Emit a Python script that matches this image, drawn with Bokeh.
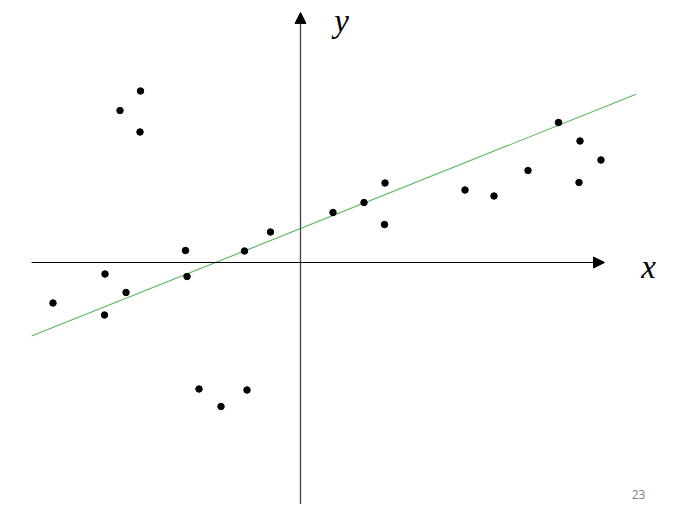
from bokeh.plotting import figure
from bokeh.models import Arrow, NormalHead, Label, Range1d, ColumnDataSource
from bokeh.embed import file_html
from bokeh.resources import INLINE

# Data points
pts_x = [-4.95, -3.91, -3.92, -3.49, -2.30, -2.27, -1.12, -0.60,
         0.65, 1.27, 1.69, 1.68, 3.29, 3.87, 4.55, 5.16, 5.59, 6.01, 5.57,
         -3.20, -3.61, -3.21, -2.03, -1.07, -1.59]
pts_y = [-0.81, -0.23, -1.05, -0.60, 0.24, -0.28, 0.23, 0.61,
         1.00, 1.20, 1.59, 0.76, 1.45, 1.33, 1.84, 2.80, 2.43, 2.05, 1.60,
         3.43, 3.04, 2.61, -2.53, -2.55, -2.88]

# Fitted line
fit_slope = 0.40
fit_intercept = 0.68
fit_x = [-5.38, 6.71]
fit_y = [fit_slope * v + fit_intercept for v in fit_x]

page_number = "23"

p = figure(width=666, height=504, output_backend="svg", toolbar_location=None,
           x_range=Range1d(-6.0, 7.32), y_range=Range1d(-4.84, 5.24),
           min_border=0, outline_line_color=None)
p.axis.visible = False
p.grid.visible = False
p.background_fill_color = "white"
p.border_fill_color = "white"

# Axes arrows
p.add_layout(Arrow(x_start=-5.38, y_start=0, x_end=6.08, y_end=0,
                   line_color="black", line_width=1.2,
                   end=NormalHead(size=11, fill_color="black", line_color="black", line_width=1)))
p.add_layout(Arrow(x_start=0, y_start=-4.84, x_end=0, y_end=5.0,
                   line_color="#404040", line_width=1.3,
                   end=NormalHead(size=11, fill_color="black", line_color="black", line_width=1)))

# Fit line
p.line(fit_x, fit_y, line_color="#5cb85c", line_width=1.1)

# Points
src = ColumnDataSource(dict(x=pts_x, y=pts_y))
p.scatter("x", "y", source=src, size=6.5, fill_color="black", line_color="black")

# Axis labels
p.add_layout(Label(x=6.96, y=-0.08, text="x", text_font="Liberation Serif",
                   text_font_style="italic", text_font_size="33px",
                   text_align="center", text_baseline="alphabetic", text_color="black"))
p.add_layout(Label(x=0.82, y=4.84, text="y", text_font="Liberation Serif",
                   text_font_style="italic", text_font_size="33px",
                   text_align="center", text_baseline="alphabetic", text_color="black"))

# Page number
p.add_layout(Label(x=6.76, y=-4.64, text=page_number, text_font="Open Sans",
                   text_font_size="12px", text_align="center",
                   text_baseline="alphabetic", text_color="#808080"))

open("out.html", "w").write(file_html(p, INLINE))
